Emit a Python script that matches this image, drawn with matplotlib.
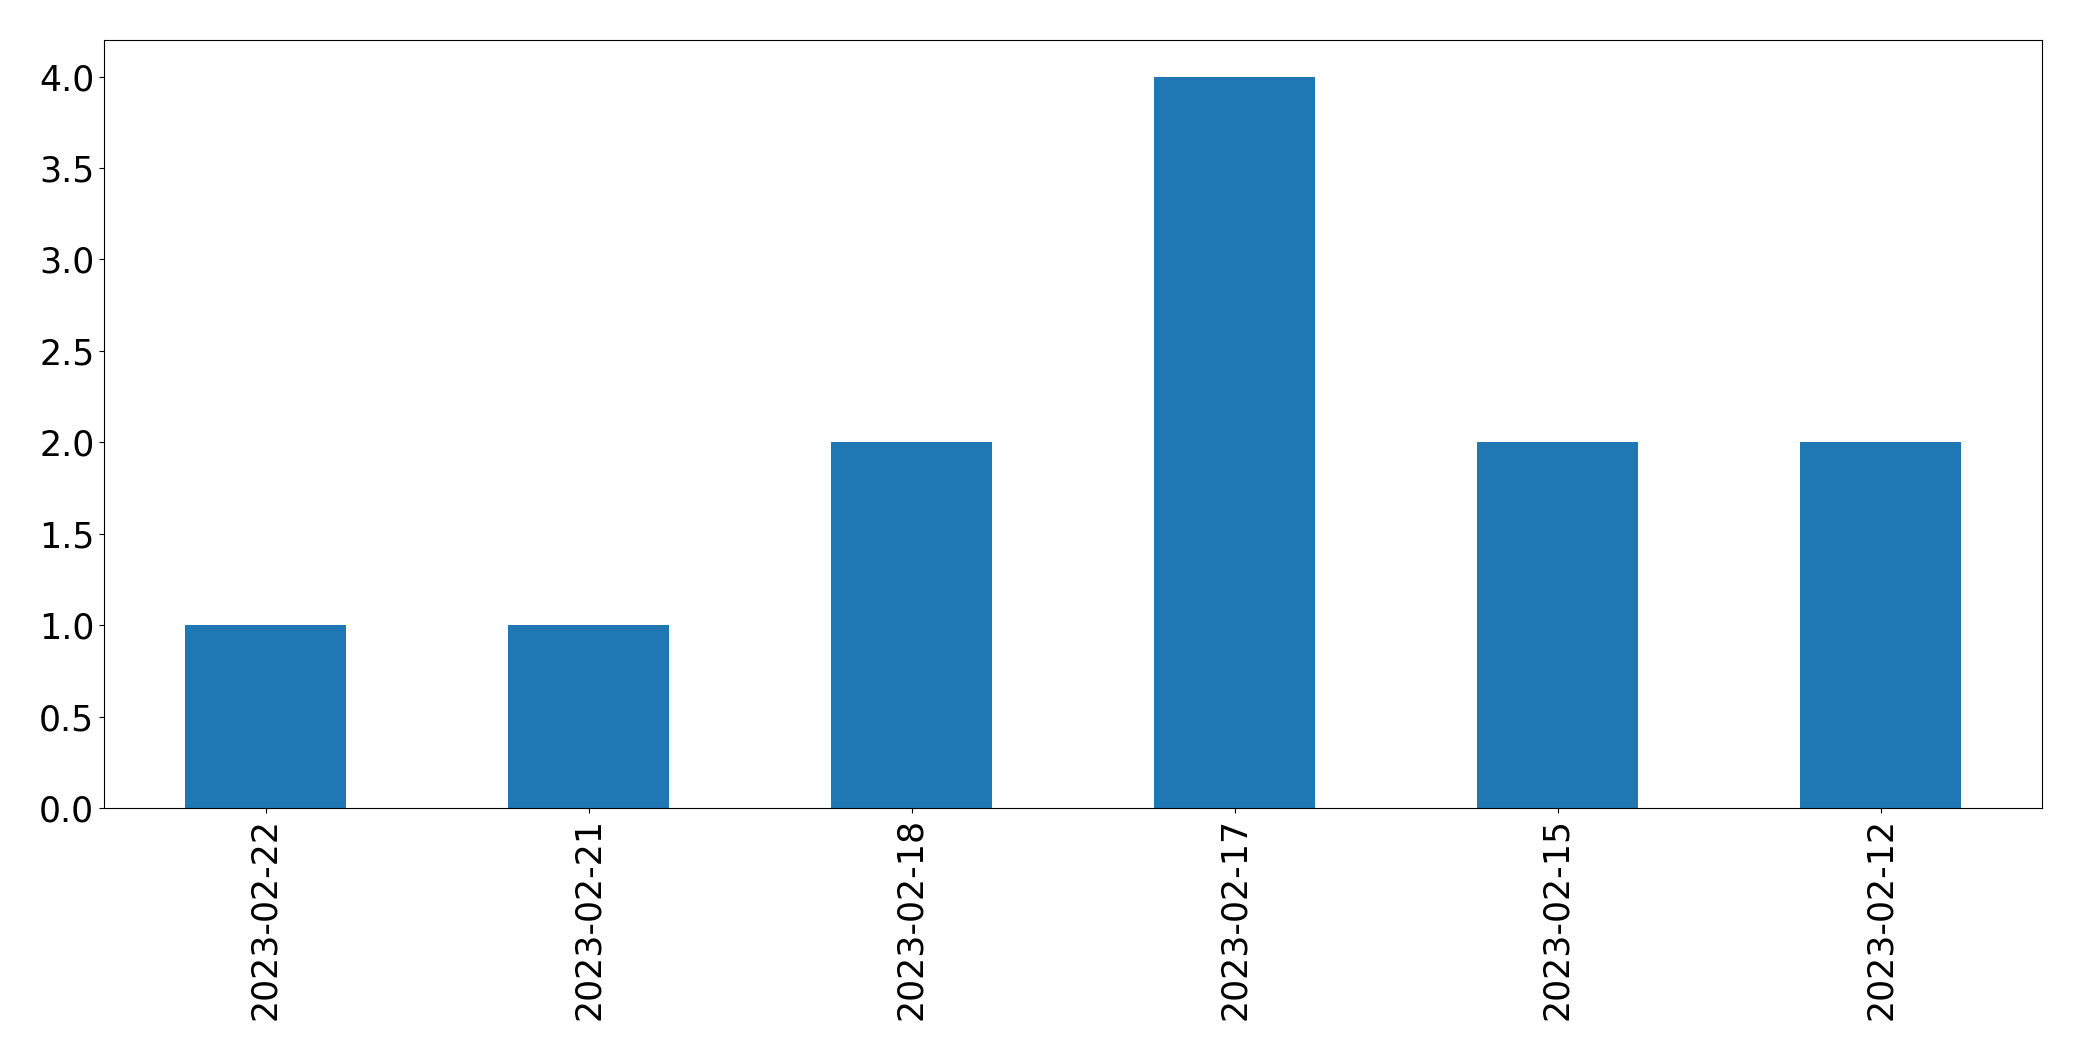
import matplotlib
matplotlib.use("Agg")
import matplotlib.pyplot as plt
import pandas as pd

dates = ["2023-02-22", "2023-02-21", "2023-02-18", "2023-02-17", "2023-02-15", "2023-02-12"]
counts = [1, 1, 2, 4, 2, 2]

s = pd.Series(counts, index=dates)

fig, ax = plt.subplots(figsize=(20.82, 10.61), dpi=100)
s.plot(kind="bar", ax=ax, color="#1f77b4")
ax.tick_params(axis="both", labelsize=25)
fig.subplots_adjust(left=104/2082, right=2042/2082, top=1-40/1061, bottom=1-808/1061)
fig.savefig("out.png", dpi=100)
